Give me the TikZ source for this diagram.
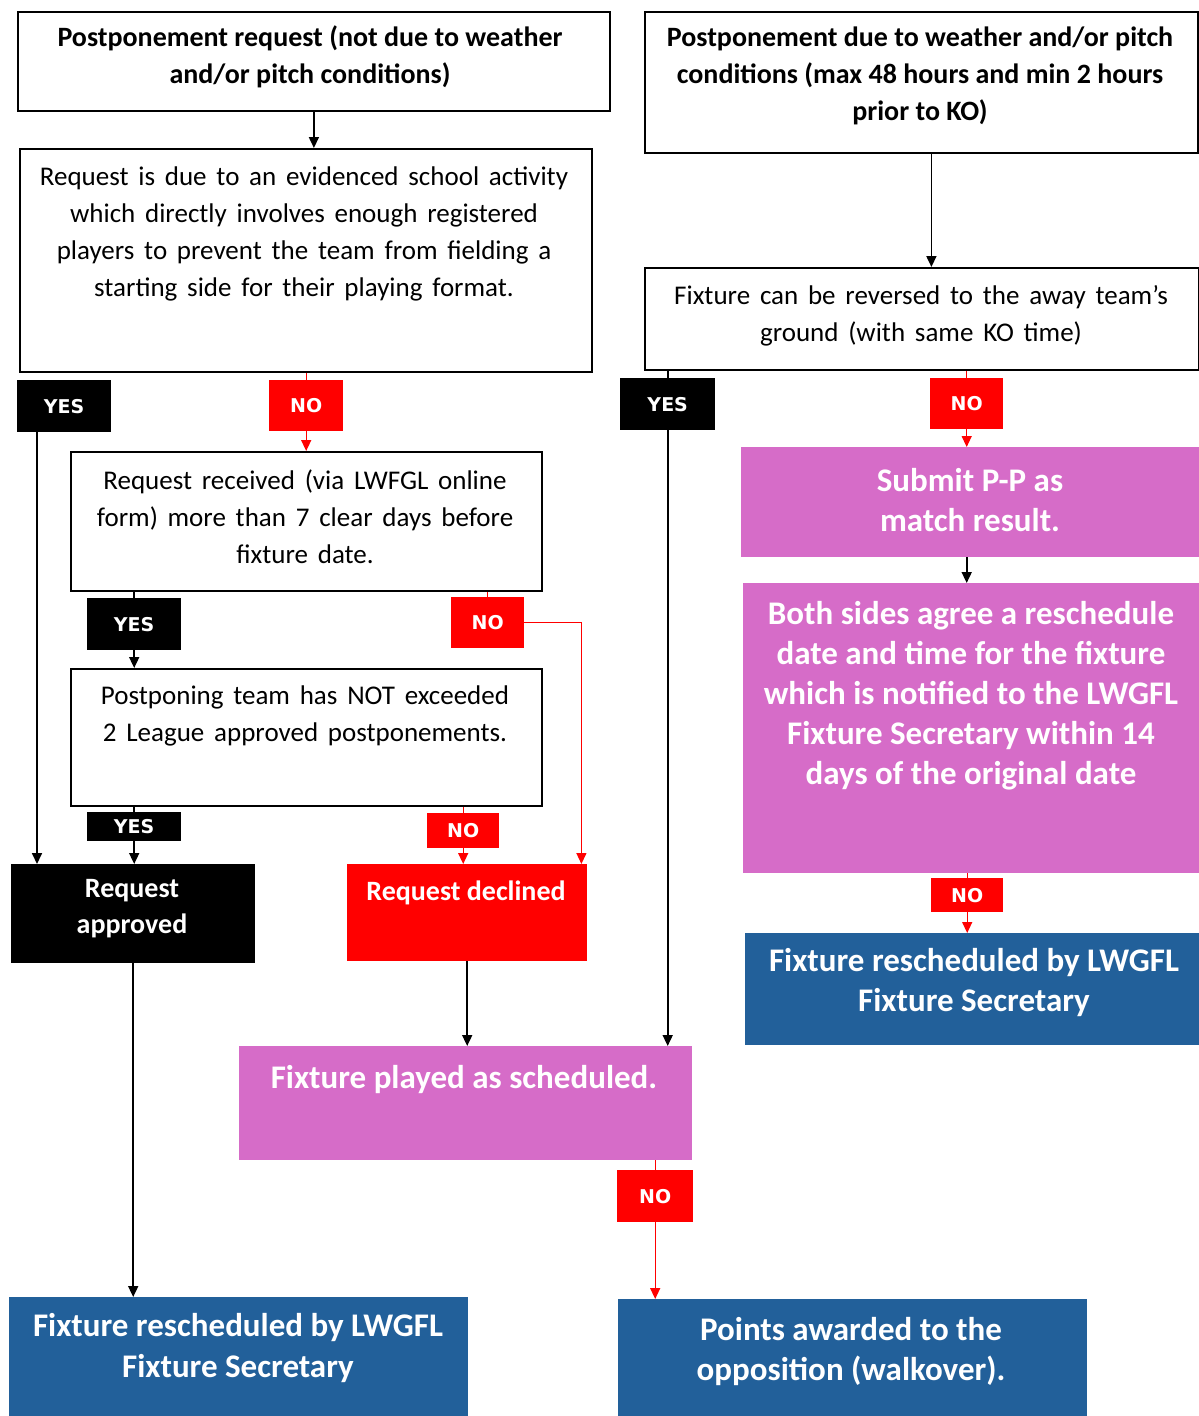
\documentclass[tikz,border=0pt]{standalone}
\usepackage{fontspec}
\setmainfont{Carlito}
\newfontfamily\bodyfont{Carlito}[WordSpace=1.6]
\newfontfamily\labfont{DejaVu Sans}
\usetikzlibrary{arrows.meta}
\definecolor{pinkbox}{HTML}{D66CC8}
\definecolor{bluebox}{HTML}{22609A}
\definecolor{redc}{HTML}{FF0000}
\tikzset{
  wbox/.style={draw=black, line width=1.8pt, fill=white, anchor=north west, inner sep=0pt},
  cbox/.style={anchor=north west, inner sep=0pt},
  lab/.style={anchor=north west, inner sep=0pt, text=white, font=\labfont\bfseries\fontsize{19}{19}\selectfont},
  body/.style={align=center, inner sep=0pt, font=\bodyfont\fontsize{27}{37}\selectfont},
  bodyb/.style={align=center, inner sep=0pt, font=\bfseries\fontsize{28}{37}\selectfont},
  wbold/.style={align=center, inner sep=0pt, text=white, font=\bfseries\fontsize{33}{40}\selectfont},
  wmid/.style={align=center, inner sep=0pt, text=white, font=\bfseries\fontsize{28}{36}\selectfont},
  arr/.style={line width=1.7pt, -{Triangle[length=11pt,width=10pt]}},
  rarr/.style={draw=redc, line width=1.4pt, -{Triangle[length=11pt,width=10pt]}},
  ln/.style={line width=1.7pt},
  rln/.style={draw=redc, line width=1.4pt}
}
\begin{document}
\begin{tikzpicture}[x=1pt,y=-1pt]
\fill[white] (0,0) rectangle (1199,1416);
\useasboundingbox (0,0) rectangle (1199,1416);

% boxes
\node[wbox, minimum width=592, minimum height=99] (A) at (17,11) {};
\node[wbox, minimum width=553, minimum height=141] (B) at (644,11) {};
\node[wbox, minimum width=572, minimum height=223] (C) at (19,148) {};
\node[wbox, minimum width=554, minimum height=102] (D) at (644,267) {};
\node[wbox, minimum width=471, minimum height=139] (E) at (70,451) {};
\node[wbox, minimum width=471, minimum height=137] (F) at (70,668) {};
\node[cbox, fill=black, minimum width=244, minimum height=99] (App) at (11,864) {};
\node[cbox, fill=redc, minimum width=240, minimum height=97] (Dec) at (347,864) {};
\node[cbox, fill=pinkbox, minimum width=458, minimum height=110] (Sub) at (741,447) {};
\node[cbox, fill=pinkbox, minimum width=456, minimum height=290] (Both) at (743,583) {};
\node[cbox, fill=bluebox, minimum width=454, minimum height=112] (RR) at (745,933) {};
\node[cbox, fill=pinkbox, minimum width=453, minimum height=114] (Pl) at (239,1046) {};
\node[cbox, fill=bluebox, minimum width=459, minimum height=119] (RL) at (9,1297) {};
\node[cbox, fill=bluebox, minimum width=469, minimum height=117] (Pts) at (618,1299) {};

% texts
\node[bodyb] (At) at (310,57) {Postponement request (not due to weather\\and/or pitch conditions)};
\node[bodyb] (Bt) at (920,76) {Postponement due to weather and/or pitch\\conditions (max 48 hours and min 2 hours\\prior to KO)};
\node[body] (Ct) at (304,234) {Request is due to an evidenced school activity\\which directly involves enough registered\\players to prevent the team from fielding a\\starting side for their playing format.};
\node[body] (Dt) at (921,316) {Fixture can be reversed to the away team’s\\ground (with same KO time)};
\node[body] (Et) at (305,517) {Request received (via LWFGL online\\form) more than 7 clear days before\\fixture date.};
\node[body] (Ft) at (305,716) {Postponing team has NOT exceeded\\2 League approved postponements.};
\node[wmid] (Appt) at (132,909) {Request\\approved};
\node[wmid] (Dect) at (466,893) {Request declined};
\node[wbold] (Subt) at (970,500) {Submit P-P as\\match result.};
\node[wbold] (Botht) at (971,696) {Both sides agree a reschedule\\date and time for the fixture\\which is notified to the LWGFL\\Fixture Secretary within 14\\days of the original date};
\node[wbold] (RRt) at (974,983) {Fixture rescheduled by LWGFL\\Fixture Secretary};
\node[wbold] (Plt) at (464,1080) {Fixture played as scheduled.};
\node[wbold] (RLt) at (238,1348) {Fixture rescheduled by LWGFL\\Fixture Secretary};
\node[wbold] (Ptst) at (851,1351) {Points awarded to the\\opposition (walkover).};

% labels
\node[lab, fill=black, minimum width=94, minimum height=52] (y1) at (17,380) {YES};
\node[lab, fill=redc, minimum width=74, minimum height=51] (n1) at (269,380) {NO};
\node[lab, fill=black, minimum width=94, minimum height=52] (y2) at (87,598) {YES};
\node[lab, fill=redc, minimum width=73, minimum height=51] (n2) at (451,597) {NO};
\node[lab, fill=black, minimum width=94, minimum height=29] (y3) at (87,812) {YES};
\node[lab, fill=redc, minimum width=72, minimum height=35] (n3) at (427,813) {NO};
\node[lab, fill=black, minimum width=95, minimum height=52] (y4) at (620,378) {YES};
\node[lab, fill=redc, minimum width=73, minimum height=51] (n4) at (930,378) {NO};
\node[lab, fill=redc, minimum width=72, minimum height=34] (n5) at (931,878) {NO};
\node[lab, fill=redc, minimum width=76, minimum height=52] (n6) at (617,1170) {NO};

% connectors
\draw[arr] (A.south) -- (A.south |- C.north);
\draw[arr] ([xshift=10]B.south) -- ([xshift=10]B.south |- D.north);
\draw[rln] (C.south -| n1) -- (n1.north);
\draw[rarr] (n1.south) -- (n1.south |- E.north);
\draw[arr] ([xshift=20]y1.south west) -- ([xshift=20]y1.south west |- App.north);
\draw[ln] (E.south -| y2) -- (y2.north);
\draw[arr] (y2.south) -- (y2.south |- F.north);
\draw[rln] (E.south -| n2) -- (n2.north);
\draw[rarr] (n2.east) -| ([xshift=-6]Dec.north east);
\draw[ln] (F.south -| y3) -- (y3.north);
\draw[arr] (y3.south) -- (y3.south |- App.north);
\draw[rln] (F.south -| n3) -- (n3.north);
\draw[rarr] (n3.south) -- (n3.south |- Dec.north);
\draw[arr] (Dec.south) -- (Dec.south |- Pl.north);
\draw[arr] (App.south) -- (App.south |- RL.north);
\draw[ln] (D.south -| y4) -- (y4.north);
\draw[arr] (y4.south) -- (y4.south |- Pl.north);
\draw[rln] (D.south -| n4) -- (n4.north);
\draw[rarr] (n4.south) -- (n4.south |- Sub.north);
\draw[arr] (Sub.south -| n4) -- (n4 |- Both.north);
\draw[rln] (Both.south -| n5) -- (n5.north);
\draw[rarr] (n5.south) -- (n5.south |- RR.north);
\draw[rln] (Pl.south -| n6) -- (n6.north);
\draw[rarr] (n6.south) -- (n6.south |- Pts.north);
\end{tikzpicture}
\end{document}
